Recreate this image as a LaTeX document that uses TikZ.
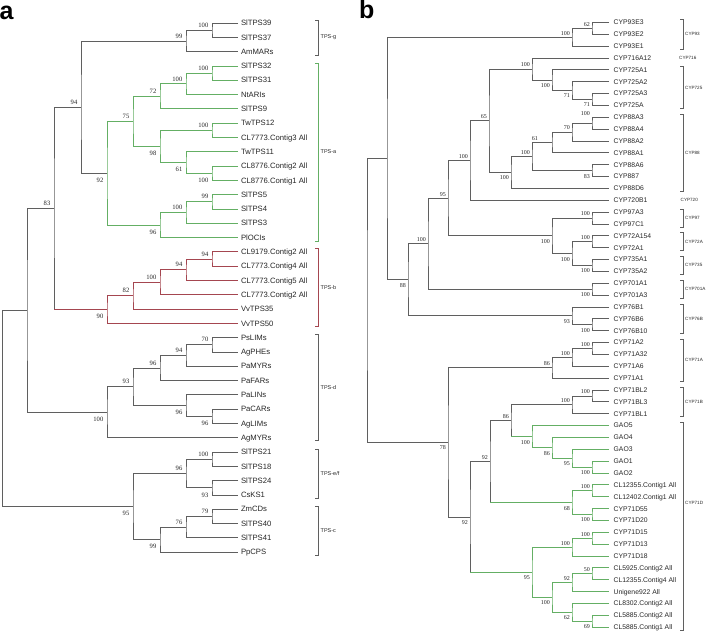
\documentclass[tikz,border=0pt]{standalone}
\usepackage{fontspec}
\setmainfont{Liberation Sans}
\newfontfamily\bsfont{Liberation Serif}
\definecolor{brgray}{RGB}{95,95,95}
\definecolor{brgreen}{RGB}{100,175,100}
\definecolor{brred}{RGB}{165,70,80}
\newcommand\mkclade[4]{\draw[#1] (#3) -| (#2) |- (#4);}
\newcommand\mkmixed[5]{\draw[#1] (#3) -| (#2) |- (#2 |- #4); \draw[#5] (#2 |- #4) -- (#4);}
\tikzset{
  gbr/.style={draw=brgray, line width=0.75pt},
  gnbr/.style={draw=brgreen, line width=0.75pt},
  rdbr/.style={draw=brred, line width=0.75pt},
  leafa/.style={anchor=west, inner xsep=2.8pt, inner ysep=0pt, text height=5.5pt, text depth=0pt, font=\fontsize{7.7}{9}\selectfont, text=black!85},
  leafb/.style={anchor=west, inner xsep=4.5pt, inner ysep=0pt, text height=4.9pt, text depth=0pt, font=\fontsize{6.8}{8}\selectfont, text=black!85},
  bsaAL/.style={anchor=south east, inner sep=0pt, xshift=-3.5pt, yshift=2.5pt, font=\bsfont\fontsize{6.6}{7}\selectfont, text=black!85},
  bsaBL/.style={anchor=north east, inner sep=0pt, xshift=-3.5pt, yshift=-4.8pt, font=\bsfont\fontsize{6.6}{7}\selectfont, text=black!85},
  bsbAL/.style={anchor=south east, inner sep=0pt, xshift=-2pt, yshift=1.8pt, font=\bsfont\fontsize{6}{7}\selectfont, text=black!85},
  bsbBL/.style={anchor=north east, inner sep=0pt, xshift=-2pt, yshift=-3.3pt, font=\bsfont\fontsize{6}{7}\selectfont, text=black!85},
  grpa/.style={anchor=west, inner sep=0pt, font=\fontsize{5.5}{6}\selectfont, text=black!85},
  grpb/.style={anchor=west, inner sep=0pt, font=\fontsize{4.6}{5}\selectfont, text=black!85},
  brk/.style={line width=0.7pt},
  panel/.style={font=\fontsize{25}{28}\selectfont\bfseries, anchor=base west, inner sep=0pt}
}
\begin{document}
\begin{tikzpicture}[x=1pt,y=-1pt]
\useasboundingbox (0,0) rectangle (709,634);
\node[panel] (pa) at (-0.5,20) {a};
\node[panel] (pb) at (359,18.5) {b};

% ---------- panel a leaves
\foreach \txt [count=\i from 0] in {SlTPS39,SlTPS37,AmMARs,SlTPS32,SlTPS31,NtARIs,SlTPS9,TwTPS12,CL7773.Contig3 All,TwTPS11,CL8776.Contig2 All,CL8776.Contig1 All,SlTPS5,SlTPS4,SlTPS3,PlOCIs,CL9179.Contig2 All,CL7773.Contig4 All,CL7773.Contig5 All,CL7773.Contig2 All,VvTPS35,VvTPS50,PsLIMs,AgPHEs,PaMYRs,PaFARs,PaLINs,PaCARs,AgLIMs,AgMYRs,SlTPS21,SlTPS18,SlTPS24,CsKS1,ZmCDs,SlTPS40,SlTPS41,PpCPS}
  {\node[leafa] (la\i) at (238,{23+14.3*\i}) {\txt};}

% ---------- panel a internal nodes
\coordinate (Ag1) at (212,30.15);
\coordinate (Ag2) at (186,40.9);
\coordinate (Aa1) at (212,73.05);
\coordinate (Aa2) at (186,83.8);
\coordinate (Aa3) at (160,96.3);
\coordinate (Aa4) at (212,130.25);
\coordinate (Aa5) at (212,173.15);
\coordinate (Aa6) at (186,162.4);
\coordinate (Aa7) at (160,146.3);
\coordinate (Aa8) at (133,121.3);
\coordinate (Aa9) at (212,201.75);
\coordinate (Aa10) at (186,212.5);
\coordinate (Aa11) at (160,225);
\coordinate (Aa12) at (107,173.15);
\coordinate (An94) at (81,107);
\coordinate (Ab1) at (212,258.95);
\coordinate (Ab2) at (186,269.7);
\coordinate (Ab3) at (160,282.2);
\coordinate (Ab4) at (133,295.6);
\coordinate (Ab5) at (107,309.45);
\coordinate (An83) at (54,208.2);
\coordinate (Ad1) at (212,344.75);
\coordinate (Ad2) at (186,355.5);
\coordinate (Ad3) at (160,368);
\coordinate (Ad4) at (212,416.25);
\coordinate (Ad5) at (186,405.5);
\coordinate (Ad6) at (133,386.75);
\coordinate (Ad7) at (107,412.2);
\coordinate (An27) at (27,310.2);
\coordinate (Ae1) at (212,459.15);
\coordinate (Ae2) at (212,487.75);
\coordinate (Ae3) at (186,473.45);
\coordinate (Ac1) at (212,516.35);
\coordinate (Ac2) at (186,527.1);
\coordinate (Ac3) at (160,539.6);
\coordinate (An95) at (133,506.5);
\coordinate (Aroot) at (2.5,408.4);

\foreach \p/\a/\b in {Ag1/la0/la1,Ag2/Ag1/la2,An94/Ag2/Aa12,Ad1/la22/la23,Ad2/Ad1/la24,Ad3/Ad2/la25,Ad4/la27/la28,Ad5/la26/Ad4,Ad6/Ad3/Ad5,Ad7/Ad6/la29,An27/An83/Ad7,Ae1/la30/la31,Ae2/la32/la33,Ae3/Ae1/Ae2,Ac1/la34/la35,Ac2/Ac1/la36,Ac3/Ac2/la37,An95/Ae3/Ac3,Aroot/An27/An95}
  {\mkclade{gbr}{\p}{\a}{\b}}
\foreach \p/\a/\b in {Aa1/la3/la4,Aa2/Aa1/la5,Aa3/Aa2/la6,Aa4/la7/la8,Aa5/la10/la11,Aa6/la9/Aa5,Aa7/Aa4/Aa6,Aa8/Aa3/Aa7,Aa9/la12/la13,Aa10/Aa9/la14,Aa11/Aa10/la15,Aa12/Aa8/Aa11}
  {\mkclade{gnbr}{\p}{\a}{\b}}
\foreach \p/\a/\b in {Ab1/la16/la17,Ab2/Ab1/la18,Ab3/Ab2/la19,Ab4/Ab3/la20,Ab5/Ab4/la21}
  {\mkclade{rdbr}{\p}{\a}{\b}}
\mkmixed{gbr}{An83}{An94}{Ab5}{rdbr}

\foreach \p/\v in {Ag1/100,Ag2/99,Aa1/100,Aa2/100,Aa3/72,Aa4/100,Aa8/75,Aa9/99,Aa10/100,An94/94,Ab1/94,Ab2/94,Ab3/100,Ab4/82,An83/83,Ad1/70,Ad2/94,Ad3/96,Ad6/93,Ae1/100,Ae3/96,Ac1/79,Ac2/76}
  {\node[bsaAL] (bs\p) at (\p) {\v};}
\foreach \p/\v in {Aa5/100,Aa6/61,Aa7/98,Aa11/96,Aa12/92,Ab5/90,Ad4/96,Ad5/96,Ad7/100,Ae2/93,Ac3/99,An95/95}
  {\node[bsaBL] (bs\p) at (\p) {\v};}

% ---------- panel a brackets
\draw[brk,brgray] (315,20) -- (318,20) -- (318,55) -- (315,55);
\node[grpa] (tpsg) at (320.5,37.3) {TPS-g};
\draw[brk,brgreen] (315,63) -- (318,63) -- (318,241) -- (315,241);
\node[grpa] (tpsa) at (320.5,151.7) {TPS-a};
\draw[brk,brred] (315,248.8) -- (318,248.8) -- (318,326.3) -- (315,326.3);
\node[grpa] (tpsb) at (320.5,287.5) {TPS-b};
\draw[brk,brgray] (315,334.6) -- (318,334.6) -- (318,440.7) -- (315,440.7);
\node[grpa] (tpsd) at (320.5,387.6) {TPS-d};
\draw[brk,brgray] (315,449) -- (318,449) -- (318,497.9) -- (315,497.9);
\node[grpa] (tpse) at (320.5,473.4) {TPS-e/f};
\draw[brk,brgray] (315,506.2) -- (318,506.2) -- (318,555.1) -- (315,555.1);
\node[grpa] (tpsc) at (320.5,530.6) {TPS-c};

% ---------- panel b leaves
\foreach \txt [count=\i from 0] in {CYP93E3,CYP93E2,CYP93E1,CYP716A12,CYP725A1,CYP725A2,CYP725A3,CYP725A,CYP88A3,CYP88A4,CYP88A2,CYP88A1,CYP88A6,CYP887,CYP88D6,CYP720B1,CYP97A3,CYP97C1,CYP72A154,CYP72A1,CYP735A1,CYP735A2,CYP701A1,CYP701A3,CYP76B1,CYP76B6,CYP76B10,CYP71A2,CYP71A32,CYP71A6,CYP71A1,CYP71BL2,CYP71BL3,CYP71BL1,GAO5,GAO4,GAO3,GAO1,GAO2,CL12355.Contig1 All,CL12402.Contig1 All,CYP71D55,CYP71D20,CYP71D15,CYP71D13,CYP71D18,CL5925.Contig2 All,CL12355.Contig4 All,Unigene922 All,CL8302.Contig2 All,CL5885.Contig2 All,CL5885.Contig1 All}
  {\node[leafb] (lb\i) at (609,{22.3+11.86*\i}) {\txt};}

% ---------- panel b internal nodes
\coordinate (Bp1) at (592,28.23);
\coordinate (Bp2) at (572,37.1);
\coordinate (Bq1) at (592,99.39);
\coordinate (Bq2) at (572,90.5);
\coordinate (Bq3) at (552,80.12);
\coordinate (Bq4) at (532,69.0);
\coordinate (Br1) at (592,123.11);
\coordinate (Br2) at (572,132.0);
\coordinate (Br3) at (552,142.38);
\coordinate (Br4) at (592,170.55);
\coordinate (Br5) at (532,156.47);
\coordinate (Br6) at (511,172.4);
\coordinate (Bs65) at (489,120.7);
\coordinate (Bs100) at (470,160.45);
\coordinate (Bt1) at (592,217.99);
\coordinate (Bt2) at (592,241.71);
\coordinate (Bt3) at (592,265.43);
\coordinate (Bt4) at (572,253.57);
\coordinate (Bt5) at (552,235.78);
\coordinate (Bs95) at (448,198.1);
\coordinate (Bu1) at (592,289.15);
\coordinate (Bs100b) at (428,243.6);
\coordinate (Bv1) at (592,324.73);
\coordinate (Bv2) at (572,315.8);
\coordinate (Bs88) at (408,279.7);
\coordinate (Btop) at (387,158.4);
\coordinate (Bw1) at (592,348.45);
\coordinate (Bw2) at (572,357.3);
\coordinate (Bw3) at (552,367.7);
\coordinate (Bx1) at (592,395.89);
\coordinate (Bx2) at (572,404.8);
\coordinate (Bg1) at (592,467.05);
\coordinate (Bg2) at (572,458.2);
\coordinate (Bg3) at (552,447.8);
\coordinate (Bg4) at (532,436.7);
\coordinate (Bx3) at (511,420.7);
\coordinate (By1) at (592,490.77);
\coordinate (By2) at (592,514.49);
\coordinate (By3) at (572,502.63);
\coordinate (Bx4) at (490,461.67);
\coordinate (Bz1) at (592,538.21);
\coordinate (Bz2) at (572,547.1);
\coordinate (Bz3) at (592,573.79);
\coordinate (Bz4) at (572,582.7);
\coordinate (Bz5) at (592,621.23);
\coordinate (Bz6) at (572,612.3);
\coordinate (Bz7) at (552,597.5);
\coordinate (Bz8) at (532,572.3);
\coordinate (Bx5) at (470,517.0);
\coordinate (Bx6) at (448,442.35);
\coordinate (Broot) at (367,300.4);

\foreach \p/\a/\b in {Bp1/lb0/lb1,Bp2/Bp1/lb2,Bq1/lb6/lb7,Bq2/lb5/Bq1,Bq3/lb4/Bq2,Bq4/lb3/Bq3,Br1/lb8/lb9,Br2/Br1/lb10,Br3/Br2/lb11,Br4/lb12/lb13,Br5/Br3/Br4,Br6/Br5/lb14,Bs65/Bq4/Br6,Bs100/Bs65/lb15,Bt1/lb16/lb17,Bt2/lb18/lb19,Bt3/lb20/lb21,Bt4/Bt2/Bt3,Bt5/Bt1/Bt4,Bs95/Bs100/Bt5,Bu1/lb22/lb23,Bs100b/Bs95/Bu1,Bv1/lb25/lb26,Bv2/lb24/Bv1,Bs88/Bs100b/Bv2,Btop/Bp2/Bs88,Bw1/lb27/lb28,Bw2/Bw1/lb29,Bw3/Bw2/lb30,Bx1/lb31/lb32,Bx2/Bx1/lb33,Bx6/Bw3/Bx5,Broot/Btop/Bx6}
  {\mkclade{gbr}{\p}{\a}{\b}}
\foreach \p/\a/\b in {Bg1/lb37/lb38,Bg2/lb36/Bg1,Bg3/lb35/Bg2,Bg4/lb34/Bg3,By1/lb39/lb40,By2/lb41/lb42,By3/By1/By2,Bz1/lb43/lb44,Bz2/Bz1/lb45,Bz3/lb46/lb47,Bz4/Bz3/lb48,Bz5/lb50/lb51,Bz6/lb49/Bz5,Bz7/Bz4/Bz6,Bz8/Bz2/Bz7}
  {\mkclade{gnbr}{\p}{\a}{\b}}
\mkmixed{gbr}{Bx3}{Bx2}{Bg4}{gnbr}
\mkmixed{gbr}{Bx4}{Bx3}{By3}{gnbr}
\mkmixed{gbr}{Bx5}{Bx4}{Bz8}{gnbr}

\foreach \p/\v in {Bp1/62,Bp2/100,Bq4/100,Br2/70,Br5/100,Bs65/65,Bs100/100,Bt1/100,Bt2/100,Bs95/95,Bs100b/100,Bw1/100,Bw2/100,Bw3/86,Bx1/100,Bx2/100,Bx3/86,By1/100,Bx4/92,Bz1/100,Bz2/100,Bz3/50,Bz4/92}
  {\node[bsbAL] (bs\p) at (\p) {\v};}
\node[bsbAL, yshift=6pt] (bsBr1) at (Br1) {100};
\node[bsbAL, xshift=-12pt] (bsBr3) at (Br3) {61};
\foreach \p/\v in {Bq1/71,Bq2/71,Bq3/100,Br4/83,Br6/100,Bt3/100,Bt4/100,Bt5/100,Bu1/100,Bv1/100,Bv2/93,Bs88/88,Bg1/100,Bg2/95,Bg3/86,Bg4/100,By2/100,By3/68,Bz5/69,Bz6/62,Bz7/100,Bz8/95,Bx5/92,Bx6/78}
  {\node[bsbBL] (bs\p) at (\p) {\v};}

% ---------- panel b brackets
\foreach \t/\b/\m/\txt in {19.3/49/34.2/CYP93,66.7/108.3/87.5/CYP725,114.2/191.3/152.8/CYP88,209/227/218/CYP97,232.8/250.6/241.7/CYP72A,256.5/274.4/265.4/CYP735,280.2/298.1/289.2/CYP701A,303.9/333.7/318.8/CYP76B,339.5/381.1/360.3/CYP71A,387/416.7/401.8/CYP71B}
{
  \draw[brk,brgray] (680,\t) -- (683,\t) -- (683,\b) -- (680,\b);
  \node[grpb] (g\txt) at (685,\m) {\txt};
}
\draw[brk,brgray] (680,422.5) -- (683,422.5) -- (683,630.2) -- (680,630.2);
\node[grpb] (gCYP71D) at (685,503) {CYP71D};
\node[grpb] (gCYP716) at (679,57.9) {CYP716};
\node[grpb] (gCYP720) at (680.5,200.2) {CYP720};
\end{tikzpicture}
\end{document}
